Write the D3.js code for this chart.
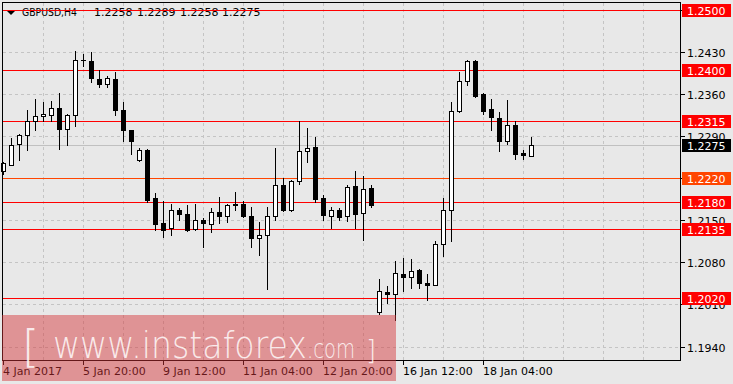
<!DOCTYPE html>
<html>
<head>
<meta charset="utf-8">
<script src="https://cdn.jsdelivr.net/npm/d3@7"></script>
<style>
  html, body { margin: 0; padding: 0; background: #e8e8e8; }
  svg { display: block; }
  text { font-family: "DejaVu Sans", sans-serif; }
  line { shape-rendering: crispEdges; }
</style>
</head>
<body>
<svg width="733" height="384"></svg>
<script>
const [WIDTH, HEIGHT] = [733, 384]
const [PLOT_L, PLOT_R, PLOT_T, PLOT_B] = [3, 680, 3, 360]

// H4 candles, 4 Jan 2017 04:00 .. 19 Jan 2017 04:00
const opens = [1.2232, 1.2243, 1.2277, 1.2292, 1.2316, 1.2324, 1.2326, 1.2337, 1.2302, 1.2326,
  1.2418, 1.2416, 1.2386, 1.2378, 1.2386, 1.2334, 1.2300, 1.2250, 1.2268, 1.2188,
  1.2146, 1.2137, 1.2168, 1.2160, 1.2135, 1.2151, 1.2144, 1.2164, 1.2157, 1.2178,
  1.2178, 1.2157, 1.2120, 1.2125, 1.2158, 1.2209, 1.2167, 1.2216, 1.2266, 1.2272,
  1.2187, 1.2157, 1.2168, 1.2157, 1.2208, 1.2162, 1.2204, 1.1997, 1.2031, 1.2027,
  1.2061, 1.2055, 1.2068, 1.2046, 1.2043, 1.2111, 1.2167, 1.2333, 1.2382, 1.2416,
  1.2360, 1.2336, 1.2321, 1.2282, 1.2309, 1.2262, 1.2258]
const highs = [1.2247, 1.2288, 1.2294, 1.2334, 1.2352, 1.2348, 1.2349, 1.2363, 1.2328, 1.2433,
  1.2428, 1.2431, 1.2400, 1.2391, 1.2397, 1.2348, 1.2301, 1.2271, 1.2269, 1.2196,
  1.2182, 1.2178, 1.2170, 1.2175, 1.2178, 1.2154, 1.2170, 1.2189, 1.2178, 1.2198,
  1.2183, 1.2173, 1.2148, 1.2173, 1.2271, 1.2220, 1.2218, 1.2315, 1.2304, 1.2289,
  1.2192, 1.2172, 1.2170, 1.2209, 1.2233, 1.2224, 1.2209, 1.2053, 1.2041, 1.2083,
  1.2087, 1.2085, 1.2069, 1.2061, 1.2116, 1.2188, 1.2348, 1.2398, 1.2417, 1.2418,
  1.2362, 1.2352, 1.2331, 1.2350, 1.2315, 1.2267, 1.2289]
const lows = [1.2227, 1.2242, 1.2250, 1.2267, 1.2300, 1.2316, 1.2316, 1.2269, 1.2275, 1.2308,
  1.2407, 1.2380, 1.2373, 1.2372, 1.2325, 1.2283, 1.2260, 1.2249, 1.2180, 1.2134,
  1.2123, 1.2125, 1.2151, 1.2133, 1.2134, 1.2105, 1.2130, 1.2146, 1.2148, 1.2168,
  1.2156, 1.2105, 1.2093, 1.2035, 1.2150, 1.2165, 1.2166, 1.2210, 1.2247, 1.2181,
  1.2150, 1.2138, 1.2150, 1.2149, 1.2138, 1.2118, 1.2172, 1.1994, 1.2012, 1.1984,
  1.2033, 1.2037, 1.2037, 1.2017, 1.2042, 1.2090, 1.2115, 1.2330, 1.2375, 1.2355,
  1.2327, 1.2300, 1.2265, 1.2277, 1.2252, 1.2252, 1.2258]
const closes = [1.2246, 1.2275, 1.2293, 1.2316, 1.2324, 1.2327, 1.2337, 1.2303, 1.2326, 1.2418,
  1.2417, 1.2387, 1.2378, 1.2387, 1.2334, 1.2300, 1.2283, 1.2268, 1.2184, 1.2144,
  1.2134, 1.2168, 1.2160, 1.2134, 1.2151, 1.2145, 1.2164, 1.2157, 1.2176, 1.2176,
  1.2157, 1.2120, 1.2126, 1.2157, 1.2209, 1.2168, 1.2216, 1.2266, 1.2271, 1.2186,
  1.2159, 1.2167, 1.2155, 1.2206, 1.2160, 1.2202, 1.2175, 1.2032, 1.2027, 1.2062,
  1.2055, 1.2066, 1.2046, 1.2042, 1.2111, 1.2167, 1.2332, 1.2382, 1.2416, 1.2358,
  1.2333, 1.2322, 1.2283, 1.2309, 1.2260, 1.2259, 1.2275]

const timeLabels = ["4 Jan 2017", "5 Jan 20:00", "9 Jan 12:00", "11 Jan 04:00",
  "12 Jan 20:00", "16 Jan 12:00", "18 Jan 04:00"]
const timeTickBars = [0, 10, 20, 30, 40, 50, 60]

const priceTicks = [1.1940, 1.2010, 1.2080, 1.2150, 1.2220, 1.2290, 1.2360, 1.2430, 1.2500]

const levelPrices = [1.2500, 1.2400, 1.2315, 1.2220, 1.2180, 1.2135, 1.2020]
const levelColors = ["#ff0000", "#ff0000", "#ff0000", "#ff4500", "#ff0000", "#ff0000", "#ff0000"]

const header = ["GBPUSD,H4", "1.2258", "1.2289", "1.2258", "1.2275"]
const lastPrice = 1.2275

const candles = opens.map((o, i) => ({ i, o, h: highs[i], l: lows[i], c: closes[i] }))

const svg = d3.select("svg")
  .attr("viewBox", `0 0 ${WIDTH} ${HEIGHT}`)

const x = d3.scaleLinear().domain([0, 84.625]).range([PLOT_L, PLOT_R])
const y = d3.scaleLinear().domain([1.1940, 1.2500]).range([347.0, 10.8])
const px = (v) => Math.round(x(v))
const py = (v) => Math.floor(y(v)) + 0.5

svg.append("rect")
  .attr("width", WIDTH).attr("height", HEIGHT)
  .attr("fill", "#e8e8e8")

// grid
const grid = svg.append("g")
  .attr("stroke", "#c4c4c4")
  .attr("stroke-dasharray", "3,3")
grid.selectAll("line.h")
  .data(priceTicks)
  .enter()
  .append("line")
  .attr("x1", PLOT_L).attr("x2", PLOT_R)
  .attr("y1", (d) => py(d)).attr("y2", (d) => py(d))
grid.selectAll("line.v")
  .data(d3.range(5, 85, 5))
  .enter()
  .append("line")
  .attr("x1", (d) => px(d) + 0.5).attr("x2", (d) => px(d) + 0.5)
  .attr("y1", PLOT_T).attr("y2", PLOT_B)

// header
const headerG = svg.append("g").attr("font-size", 11).attr("fill", "#000")
headerG.append("path")
  .attr("d", "M7,11 L15,11 L11,15 Z")
  .attr("fill", "#000")
const headerX = [22, 94, 137, 180, 222]
headerG.selectAll("text")
  .data(header)
  .enter()
  .append("text")
  .attr("x", (d, k) => headerX[k])
  .attr("y", 16)
  .attr("textLength", (d, k) => (k === 0 ? 55 : null))
  .attr("lengthAdjust", "spacingAndGlyphs")
  .text((d) => d)

// last price line
svg.append("line")
  .attr("x1", PLOT_L).attr("x2", PLOT_R)
  .attr("y1", py(lastPrice)).attr("y2", py(lastPrice))
  .attr("stroke", "#c0c0c0")

// level lines
svg.append("g")
  .selectAll("line")
  .data(levelPrices)
  .enter()
  .append("line")
  .attr("x1", PLOT_L).attr("x2", PLOT_R)
  .attr("y1", (d) => py(d)).attr("y2", (d) => py(d))
  .attr("stroke", (d, k) => levelColors[k])
  .attr("stroke-width", 1)

// candles
const candleG = svg.append("g")
candleG.selectAll("line.wick")
  .data(candles)
  .enter()
  .append("line")
  .attr("x1", (d) => px(d.i) + 0.5).attr("x2", (d) => px(d.i) + 0.5)
  .attr("y1", (d) => py(d.h) - 0.5).attr("y2", (d) => py(d.l) + 0.5)
  .attr("stroke", "#000")
candleG.selectAll("rect.body")
  .data(candles)
  .enter()
  .append("rect")
  .attr("x", (d) => px(d.i) - 1.5)
  .attr("width", 4)
  .attr("y", (d) => py(Math.max(d.o, d.c)))
  .attr("height", (d) => Math.max(py(Math.min(d.o, d.c)) - py(Math.max(d.o, d.c)), 0.01))
  .attr("fill", (d) => (d.c >= d.o ? "#fff" : "#000"))
  .attr("stroke", "#000")

// frame
svg.append("rect")
  .attr("x", PLOT_L - 0.5).attr("y", PLOT_T - 0.5)
  .attr("width", PLOT_R - PLOT_L + 1).attr("height", PLOT_B - PLOT_T + 1)
  .attr("fill", "none")
  .attr("stroke", "#000")

// price axis
const axisG = svg.append("g").attr("font-size", 11)
axisG.selectAll("line.tick")
  .data(priceTicks)
  .enter()
  .append("line")
  .attr("x1", PLOT_R + 0.5).attr("x2", PLOT_R + 4.5)
  .attr("y1", (d) => py(d)).attr("y2", (d) => py(d))
  .attr("stroke", "#000")
axisG.selectAll("text.tick")
  .data(priceTicks)
  .enter()
  .append("text")
  .attr("x", 687)
  .attr("y", (d) => py(d) + 4.5)
  .attr("fill", "#000")
  .text((d) => d.toFixed(4))

const labels = levelPrices.map((p, k) => ({ p, bg: levelColors[k] }))
  .concat([{ p: lastPrice, bg: "#000" }])
const labelG = axisG.selectAll("g.lbl")
  .data(labels)
  .enter()
  .append("g")
labelG.append("rect")
  .attr("x", 682).attr("width", 49)
  .attr("y", (d) => py(d.p) - 6.5).attr("height", 13)
  .attr("fill", (d) => d.bg)
labelG.append("text")
  .attr("x", 687)
  .attr("y", (d) => py(d.p) + 4.5)
  .attr("fill", "#fff")
  .text((d) => d.p.toFixed(4))

// time axis
const timeG = svg.append("g").attr("font-size", 11)
timeG.selectAll("line")
  .data(timeTickBars)
  .enter()
  .append("line")
  .attr("x1", (d) => px(d) + 0.5).attr("x2", (d) => px(d) + 0.5)
  .attr("y1", PLOT_B).attr("y2", PLOT_B + 5)
  .attr("stroke", "#000")
timeG.selectAll("text")
  .data(timeTickBars)
  .enter()
  .append("text")
  .attr("x", (d) => px(d))
  .attr("y", 375)
  .attr("fill", "#000")
  .text((d, k) => timeLabels[k])

// watermark
svg.append("rect")
  .attr("x", 2).attr("y", 315)
  .attr("width", 394).attr("height", 66)
  .attr("fill", "rgb(212,52,56)")
  .attr("fill-opacity", 0.47)
const wm = svg.append("g")
  .attr("fill", "#fff")
  .attr("fill-opacity", 0.82)
  .style("font-family", "'Open Sans', Lato, sans-serif")
  .style("font-weight", 300)
wm.append("text").attr("x", 22).attr("y", 362).attr("font-size", 44).text("[")
wm.append("text").attr("x", 53).attr("y", 358).attr("font-size", 38)
  .attr("textLength", 254).attr("lengthAdjust", "spacingAndGlyphs")
  .text("www.instaforex")
wm.append("text").attr("x", 307).attr("y", 358).attr("font-size", 26)
  .attr("textLength", 48).attr("lengthAdjust", "spacingAndGlyphs")
  .text(".com")
wm.append("text").attr("x", 366).attr("y", 359).attr("font-size", 26).text("]")
</script>
</body>
</html>
